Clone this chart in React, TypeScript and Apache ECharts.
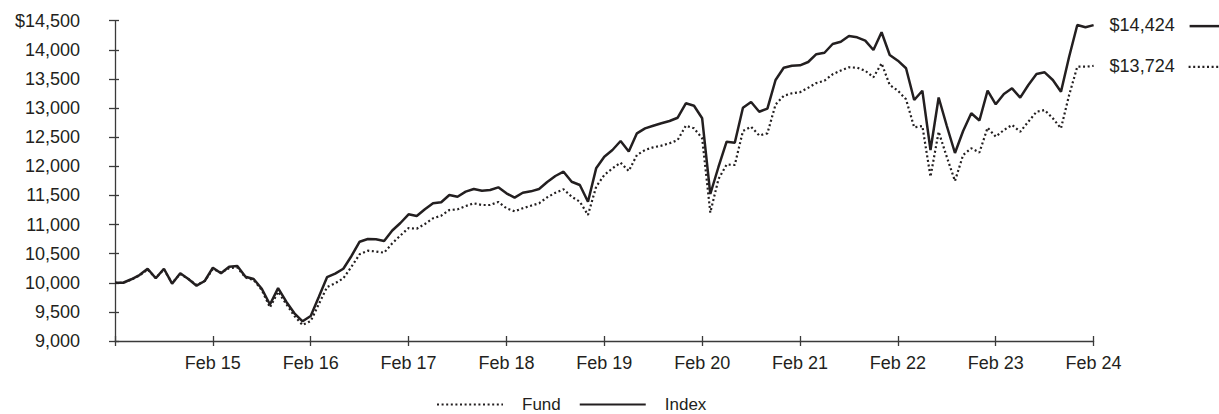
import React, { useEffect, useRef } from 'react';
import * as echarts from 'echarts';

const MONTHS = ['Jan', 'Feb', 'Mar', 'Apr', 'May', 'Jun', 'Jul', 'Aug', 'Sep', 'Oct', 'Nov', 'Dec'];
const START_YEAR = 14;
const POINTS = 121;

const categories: string[] = [];
for (let i = 0; i < POINTS; i++) {
  const m = MONTHS[(i + 1) % 12];
  const y = START_YEAR + Math.floor((i + 1) / 12);
  categories.push(`${m} ${y}`);
}

const fund = [
  10000, 10000, 10055, 10125, 10228, 10082, 10228, 9996, 10150, 10065,
  9962, 10030, 10236, 10176, 10253, 10262, 10090, 10047, 9876, 9575,
  9845, 9635, 9429, 9275, 9343, 9635, 9927, 9991, 10077, 10276,
  10489, 10551, 10537, 10516, 10678, 10812, 10940, 10928, 11009, 11107,
  11152, 11249, 11261, 11318, 11364, 11335, 11335, 11387, 11279, 11227,
  11279, 11323, 11364, 11467, 11546, 11605, 11478, 11392, 11164, 11649,
  11850, 11965, 12062, 11919, 12194, 12280, 12326, 12354, 12395, 12451,
  12697, 12652, 12481, 11206, 11780, 12031, 12022, 12606, 12680, 12529,
  12566, 13061, 13210, 13253, 13272, 13348, 13430, 13470, 13580, 13645,
  13700, 13693, 13641, 13528, 13768, 13396, 13298, 13150, 12669, 12692,
  11821, 12594, 12159, 11747, 12194, 12309, 12237, 12663, 12508, 12623,
  12709, 12594, 12766, 12937, 12966, 12824, 12652, 13224, 13710, 13710,
  13724,
];

const indexSeries = [
  10000, 10000, 10060, 10133, 10241, 10077, 10241, 9984, 10162, 10065,
  9950, 10030, 10259, 10162, 10276, 10288, 10104, 10065, 9898, 9627,
  9907, 9675, 9476, 9338, 9429, 9761, 10095, 10157, 10241, 10460,
  10705, 10751, 10746, 10717, 10897, 11026, 11176, 11146, 11261, 11364,
  11382, 11507, 11478, 11564, 11610, 11581, 11593, 11639, 11536, 11461,
  11546, 11570, 11610, 11730, 11833, 11907, 11735, 11679, 11392, 11965,
  12165, 12280, 12434, 12254, 12566, 12652, 12697, 12738, 12778, 12834,
  13082, 13040, 12824, 11524, 11988, 12422, 12405, 13004, 13104, 12937,
  12989, 13482, 13693, 13727, 13734, 13791, 13925, 13950, 14100, 14139,
  14237, 14215, 14157, 13997, 14301, 13911, 13813, 13683, 13138, 13298,
  12280, 13181, 12692, 12228, 12606, 12910, 12786, 13298, 13064, 13241,
  13339, 13178, 13396, 13585, 13614, 13482, 13281, 13882, 14426, 14387,
  14424,
];

const seriesNames = ['Fund', 'Index'];
const endLabels = ['$13,724', '$14,424'];
const Y_MIN = 9000;
const Y_MAX = 14500;
const Y_STEP = 500;

const INK = '#231f20';
const AXIS = '#3a3a3a';
const FONT = '"Liberation Sans", Arial, Helvetica, sans-serif';
const DOT: number[] = [2, 2.6];

const tickAt = (i: number) => i % 12 === 0;
const labelAt = (i: number) => i > 0 && i % 12 === 0;

export default function App() {
  const ref = useRef<HTMLDivElement>(null);

  useEffect(() => {
    document.body.style.margin = '0';
    if (!ref.current) return;
    const chart = echarts.init(ref.current, null, { renderer: 'svg' });

    const option: any = {
      animation: false,
      textStyle: { fontFamily: FONT, color: INK },
      grid: { left: 115, right: 125.4, top: 20.7, bottom: 73, containLabel: false },
      legend: {
        data: seriesNames,
        left: 431,
        top: 391,
        itemWidth: 66,
        itemHeight: 12,
        itemGap: 18,
        itemStyle: { opacity: 0, borderWidth: 0 },
        textStyle: { fontSize: 17, color: INK, fontFamily: FONT, padding: [0, 0, 0, 14] },
      },
      xAxis: [
        {
          type: 'category',
          data: categories,
          boundaryGap: false,
          position: 'bottom',
          axisLine: { show: true, lineStyle: { color: AXIS, width: 1.3 } },
          axisTick: { show: true, interval: tickAt, length: 5, lineStyle: { color: AXIS, width: 1.3 } },
          axisLabel: {
            interval: labelAt,
            margin: 13,
            fontSize: 18,
            color: INK,
            fontFamily: FONT,
          },
          splitLine: { show: false },
        },
        {
          type: 'category',
          data: categories,
          boundaryGap: false,
          position: 'bottom',
          axisLine: { show: false },
          axisTick: { show: true, inside: true, interval: tickAt, length: 5, lineStyle: { color: AXIS, width: 1.3 } },
          axisLabel: { show: false },
          splitLine: { show: false },
        },
      ],
      yAxis: [
        {
          type: 'value',
          position: 'left',
          min: Y_MIN,
          max: Y_MAX,
          interval: Y_STEP,
          axisLine: { show: true, lineStyle: { color: AXIS, width: 1.3 } },
          axisTick: { show: true, length: 6, lineStyle: { color: AXIS, width: 1.3 } },
          axisLabel: {
            margin: 35,
            fontSize: 18,
            color: INK,
            fontFamily: FONT,
            formatter: (v: number) => (v === Y_MAX ? '$' : '') + v.toLocaleString('en-US'),
          },
          splitLine: { show: false },
        },
        {
          type: 'value',
          position: 'left',
          offset: 0,
          min: Y_MIN,
          max: Y_MAX,
          interval: Y_STEP,
          axisLine: { show: false },
          axisTick: { show: true, inside: true, length: 4, lineStyle: { color: AXIS, width: 1.3 } },
          axisLabel: { show: false },
          splitLine: { show: false },
        },
      ],
      series: [
        {
          name: seriesNames[0],
          type: 'line',
          data: fund,
          symbol: 'none',
          lineStyle: { color: INK, width: 2.2, type: DOT },
          itemStyle: { color: INK },
          endLabel: {
            show: true,
            formatter: endLabels[0],
            distance: 16,
            fontSize: 18,
            color: INK,
            fontFamily: FONT,
          },
          z: 2,
        },
        {
          name: seriesNames[1],
          type: 'line',
          data: indexSeries,
          symbol: 'none',
          lineStyle: { color: INK, width: 2.5, type: 'solid' },
          itemStyle: { color: INK },
          endLabel: {
            show: true,
            formatter: endLabels[1],
            distance: 16,
            fontSize: 18,
            color: INK,
            fontFamily: FONT,
          },
          z: 3,
        },
      ],
    };

    chart.setOption(option);

    const last = POINTS - 1;
    const pf = chart.convertToPixel({ seriesIndex: 0 }, [last, fund[last]]) as number[];
    const pi = chart.convertToPixel({ seriesIndex: 1 }, [last, indexSeries[last]]) as number[];
    if (pf && pi) {
      chart.setOption({
        graphic: [
          {
            type: 'line',
            shape: { x1: pi[0] + 96, y1: pi[1] + 1, x2: pi[0] + 126, y2: pi[1] + 1 },
            style: { stroke: INK, lineWidth: 2.5 },
          },
          {
            type: 'line',
            shape: { x1: pf[0] + 95, y1: pf[1] + 1, x2: pf[0] + 126, y2: pf[1] + 1 },
            style: { stroke: INK, lineWidth: 2.2, lineDash: DOT },
          },
        ],
      });
    }

    return () => {
      chart.dispose();
    };
  }, []);

  return <div ref={ref} style={{ width: 1219, height: 414 }} />;
}
